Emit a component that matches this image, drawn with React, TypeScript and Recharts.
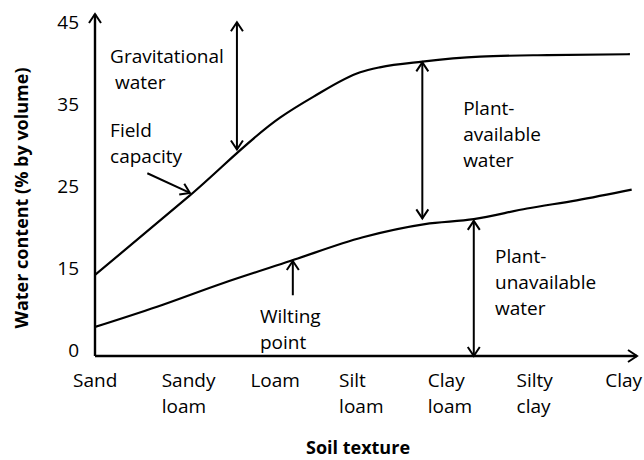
import { LineChart, Line, XAxis, YAxis, ReferenceLine, ReferenceDot } from "recharts";

const textures = ["Sand", "Sandy loam", "Loam", "Silt loam", "Clay loam", "Silty clay", "Clay"];
const yTicks = [0, 15, 25, 35, 45];

// field capacity curve (x = position along the texture axis)
const fcX = [0, 1.07, 2.09, 2.46, 2.99, 3.21, 3.69, 4.34, 5.1, 6.03];
const fcY = [13.8, 23.9, 33.4, 35.9, 38.9, 39.5, 40.2, 40.8, 41.0, 41.1];

// wilting point curve
const wpX = [0, 0.7, 1.44, 2.2, 3.02, 3.72, 4.27, 4.87, 5.43, 6.05];
const wpY = [4.3, 8.0, 12.3, 15.9, 18.8, 20.4, 21.0, 22.3, 23.3, 24.6];

const arrows = [
  { x1: 1.6, y1: 45, x2: 1.6, y2: 29.5, both: true },
  { x1: 3.69, y1: 40.1, x2: 3.69, y2: 21.1, both: true },
  { x1: 4.27, y1: 20.8, x2: 4.27, y2: -1, both: true },
  { x1: 0.59, y1: 26.6, x2: 1.07, y2: 24.2, both: false },
  { x1: 2.23, y1: 10.1, x2: 2.23, y2: 15.9, both: false },
];

const notes = [
  { x: 0.17, y: 40.0, lines: ["Gravitational", " water"] },
  { x: 0.17, y: 31.0, lines: ["Field", "capacity"] },
  { x: 4.15, y: 33.7, lines: ["Plant-", "available", "water"] },
  { x: 4.51, y: 15.7, lines: ["Plant-", "unavailable", "water"] },
  { x: 1.86, y: 5.1, lines: ["Wilting", "point"] },
];

const fcData = fcX.map((x, i) => ({ x, v: fcY[i] }));
const wpData = wpX.map((x, i) => ({ x, v: wpY[i] }));

const FONT = "'Open Sans', sans-serif";

// the tick labels of the original sit at equal spacing although the values don't,
// so map values piecewise between the labelled ticks
function toIdx(v: number) {
  if (v <= yTicks[1]) return v / (yTicks[1] - yTicks[0]);
  for (let i = 1; i < yTicks.length - 1; i++) {
    if (v <= yTicks[i + 1]) return i + (v - yTicks[i]) / (yTicks[i + 1] - yTicks[i]);
  }
  const n = yTicks.length - 1;
  return n - 1 + (v - yTicks[n - 1]) / (yTicks[n] - yTicks[n - 1]);
}

function tickScale(dom: number[] = [0, 45], rng: number[] = [0, 1]): any {
  const s: any = (v: number) => {
    const a = toIdx(dom[0]);
    const b = toIdx(dom[1]);
    return rng[0] + ((toIdx(Number(v)) - a) / (b - a)) * (rng[1] - rng[0]);
  };
  s.domain = (d?: number[]) => (d === undefined ? dom : ((dom = d.map(Number)), s));
  s.range = (r?: number[]) => (r === undefined ? rng : ((rng = r), s));
  s.copy = () => tickScale(dom.slice(), rng.slice());
  s.ticks = () => yTicks;
  return s;
}

function head(x: number, y: number, fx: number, fy: number) {
  const a = Math.atan2(y - fy, x - fx);
  const L = 9;
  const W = 6;
  const bx = x - L * Math.cos(a);
  const by = y - L * Math.sin(a);
  const px = -Math.sin(a) * W;
  const py = Math.cos(a) * W;
  return `M${bx + px},${by + py}L${x},${y}L${bx - px},${by - py}`;
}

function Arrow(p: any) {
  const { x1, y1, x2, y2, both } = p;
  return (
    <g stroke="#000" strokeWidth={2} fill="none">
      <line x1={x1} y1={y1} x2={x2} y2={y2} />
      <path d={head(x2, y2, x1, y1)} />
      {both && <path d={head(x1, y1, x2, y2)} />}
    </g>
  );
}

function Note(p: any) {
  return (
    <text x={p.cx} y={p.cy} fontFamily={FONT} fontSize={19} fill="#000" style={{ whiteSpace: "pre" }}>
      {p.lines.map((t: string, i: number) => (
        <tspan key={i} x={p.cx} dy={i === 0 ? 0 : 26}>
          {t}
        </tspan>
      ))}
    </text>
  );
}

function TextureTick(p: any) {
  const words = textures[p.payload.value].split(" ");
  return (
    <text x={p.x - 22} y={p.y} fontFamily={FONT} fontSize={19} fill="#000">
      {words.map((w, i) => (
        <tspan key={i} x={p.x - 22} dy={i === 0 ? 31 : 26}>
          {w}
        </tspan>
      ))}
    </text>
  );
}

export default function App() {
  return (
    <div style={{ position: "absolute", left: 0, top: 0 }}>
      <LineChart width={644} height={460} margin={{ top: 14, right: 7, left: 0, bottom: 0 }}>
        <defs>
          <marker
            id="axisArrow"
            viewBox="0 0 14 14"
            refX={10}
            refY={7}
            markerWidth={14}
            markerHeight={14}
            markerUnits="userSpaceOnUse"
            orient="auto-start-reverse"
          >
            <path d="M1,1L10,7L1,13" fill="none" stroke="#000" strokeWidth={2} />
          </marker>
        </defs>
        <XAxis
          type="number"
          dataKey="x"
          domain={[0, 6.11]}
          ticks={[0, 1, 2, 3, 4, 5, 6]}
          allowDataOverflow
          interval={0}
          height={104}
          tickLine={false}
          tickSize={0}
          tickMargin={0}
          axisLine={{ stroke: "#000", strokeWidth: 2.4, markerEnd: "url(#axisArrow)" }}
          tick={<TextureTick />}
        />
        <YAxis
          type="number"
          domain={[-1, 46]}
          scale={tickScale()}
          ticks={yTicks}
          allowDataOverflow
          interval={0}
          width={95}
          tickLine={false}
          tickSize={6}
          tickMargin={10}
          axisLine={{ stroke: "#000", strokeWidth: 2.4, markerStart: "url(#axisArrow)" }}
          tick={{ fill: "#000", fontSize: 19, fontFamily: FONT }}
        />
        <Line data={fcData} dataKey="v" type="monotone" stroke="#000" strokeWidth={2.2} dot={false} isAnimationActive={false} />
        <Line data={wpData} dataKey="v" type="monotone" stroke="#000" strokeWidth={2.2} dot={false} isAnimationActive={false} />
        {arrows.map((a, i) => (
          <ReferenceLine
            key={`a${i}`}
            segment={[{ x: a.x1, y: a.y1 }, { x: a.x2, y: a.y2 }]}
            ifOverflow="visible"
            shape={(p: any) => <Arrow {...p} both={a.both} />}
          />
        ))}
        {notes.map((n, i) => (
          <ReferenceDot
            key={`n${i}`}
            x={n.x}
            y={n.y}
            r={0}
            ifOverflow="visible"
            shape={(p: any) => <Note cx={p.cx} cy={p.cy} lines={n.lines} />}
          />
        ))}
        <text
          x={22}
          y={198}
          transform="rotate(-90, 22, 198)"
          textAnchor="middle"
          dy="0.35em"
          fontFamily={FONT}
          fontSize={18}
          fontWeight="bold"
          fill="#000"
        >
          Water content (% by volume)
        </text>
        <text x={358} y={454} textAnchor="middle" fontFamily={FONT} fontSize={18} fontWeight="bold" fill="#000">
          Soil texture
        </text>
      </LineChart>
    </div>
  );
}
